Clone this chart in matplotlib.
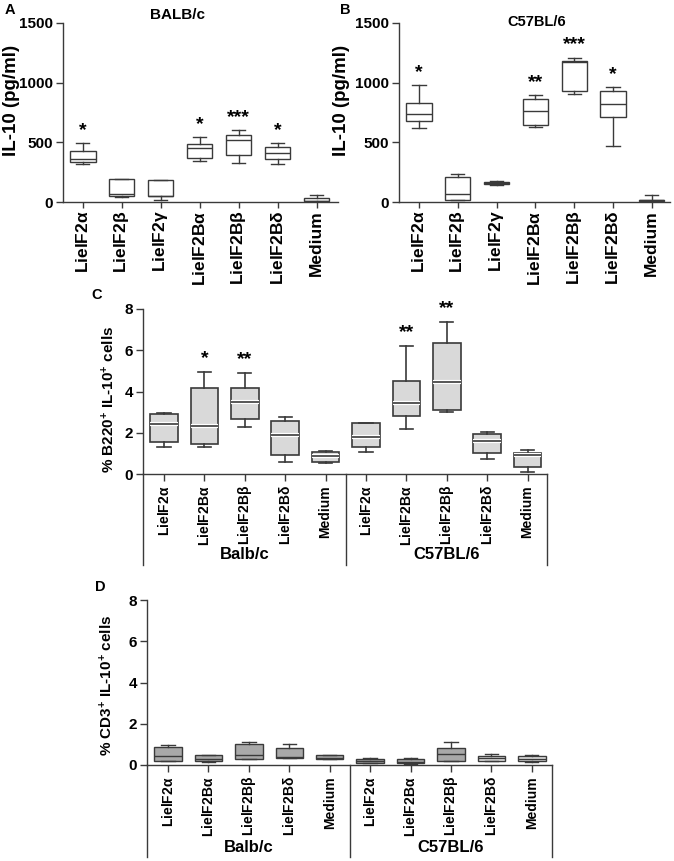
import numpy as np
import matplotlib
matplotlib.use('Agg')
import matplotlib.pyplot as plt
import matplotlib.patheffects as pe
from matplotlib import transforms

plt.rcParams['font.family'] = ['Liberation Sans', 'DejaVu Sans']
plt.rcParams['mathtext.fontset'] = 'custom'
plt.rcParams['mathtext.rm'] = 'Liberation Sans'
plt.rcParams['mathtext.bf'] = 'Liberation Sans:bold'
plt.rcParams['mathtext.default'] = 'regular'
NARROW = ['Liberation Sans Narrow', 'Liberation Sans', 'DejaVu Sans']

# IL-10 in supernatants (pg/ml), panels A and B
cats_il10 = [r'LielF2$\alpha$', r'LielF2$\beta$', r'LielF2$\gamma$', r'LielF2B$\alpha$',
             r'LielF2B$\beta$', r'LielF2B$\delta$', 'Medium']

balb_lo = [320, 45, 19, 345, 329, 315, 2]
balb_q1 = [337, 47, 48, 370, 390, 362, 5]
balb_med = [359, 69, 50, 453, 522, 412, 11]
balb_q3 = [428, 193, 182, 483, 558, 461, 33]
balb_hi = [494, 195, 188, 544, 602, 494, 55]
balb_stars = ['*', '', '', '*', '***', '*', '']

c57_lo = [620, 14, 140, 628, 905, 466, 3]
c57_q1 = [679, 20, 148, 642, 930, 712, 8]
c57_med = [740, 70, 159, 760, 1173, 824, 14]
c57_q3 = [832, 210, 168, 863, 1179, 930, 20]
c57_hi = [978, 232, 176, 894, 1207, 960, 56]
c57_stars = ['*', '', '', '**', '***', '*', '']

# % positive cells, panels C and D (Balb/c then C57BL/6)
cats_cells = [r'LielF2$\alpha$', r'LielF2B$\alpha$', r'LielF2B$\beta$', r'LielF2B$\delta$', 'Medium'] * 2
groups = ['Balb/c', 'C57BL/6']

b220_lo = [1.33, 1.33, 2.28, 0.60, 0.54, 1.09, 2.16, 2.99, 0.75, 0.08]
b220_q1 = [1.53, 1.46, 2.65, 0.91, 0.57, 1.32, 2.81, 3.12, 1.04, 0.36]
b220_med = [2.41, 2.34, 3.50, 1.87, 0.88, 1.80, 3.45, 4.46, 1.58, 0.91]
b220_q3 = [2.89, 4.18, 4.18, 2.57, 1.09, 2.46, 4.49, 6.36, 1.93, 1.04]
b220_hi = [2.96, 4.94, 4.89, 2.78, 1.12, 2.46, 6.21, 7.35, 2.05, 1.14]
b220_stars = ['', '*', '**', '', '', '', '**', '**', '', '']

cd3_lo = [0.21, 0.13, 0.29, 0.32, 0.27, 0.10, 0.06, 0.19, 0.17, 0.13]
cd3_q1 = [0.21, 0.18, 0.29, 0.32, 0.29, 0.12, 0.08, 0.19, 0.19, 0.18]
cd3_med = [0.45, 0.29, 0.50, 0.40, 0.36, 0.20, 0.16, 0.53, 0.36, 0.29]
cd3_q3 = [0.86, 0.47, 1.03, 0.84, 0.48, 0.28, 0.29, 0.84, 0.44, 0.42]
cd3_hi = [0.97, 0.50, 1.13, 1.00, 0.50, 0.32, 0.32, 1.13, 0.52, 0.47]

W, H = 674, 861
EDGE = '#3a3a3a'
fig = plt.figure(figsize=(W / 100, H / 100), dpi=100)


def px_axes(l, t, r, b):
    return fig.add_axes([l / W, 1 - b / H, (r - l) / W, (b - t) / H])


def boxes(ax, lo, q1, med, q3, hi, fill, width, capw, lw=1.0, halo=False):
    stats = [dict(whislo=a, q1=b, med=c, q3=d, whishi=e, fliers=[])
             for a, b, c, d, e in zip(lo, q1, med, q3, hi)]
    mprops = dict(color=EDGE, linewidth=lw)
    if halo:
        mprops['path_effects'] = [pe.withStroke(linewidth=3, foreground='white')]
    out = ax.bxp(stats, positions=np.arange(len(stats)), widths=width, capwidths=capw,
                 patch_artist=True, showfliers=False,
                 boxprops=dict(edgecolor=EDGE, linewidth=lw),
                 whiskerprops=dict(color=EDGE, linewidth=lw),
                 capprops=dict(color=EDGE, linewidth=lw),
                 medianprops=mprops)
    for i, bx in enumerate(out['boxes']):
        bx.set_facecolor(fill[i] if isinstance(fill, list) else fill)
    return out


def style(ax, labels, lsize, tlen, tpad):
    for s in ['top', 'right']:
        ax.spines[s].set_visible(False)
    for s in ['left', 'bottom']:
        ax.spines[s].set_color(EDGE)
        ax.spines[s].set_linewidth(1)
    ax.set_xticks(np.arange(len(labels)))
    ax.set_xticklabels(labels, rotation=90, fontsize=lsize, fontweight='bold', va='top')
    ax.tick_params(axis='x', length=tlen, width=1, color=EDGE, pad=tpad)
    ax.tick_params(axis='y', length=5, width=1, color=EDGE, pad=2)
    for t in ax.get_yticklabels():
        t.set_fontfamily(NARROW)
        t.set_fontweight('bold')
        t.set_fontsize(11)


def stars(ax, hi, marks, off):
    for i, s in enumerate(marks):
        if s:
            ax.text(i, hi[i] + off, s, ha='center', va='center', fontsize=14,
                    fontweight='bold', clip_on=False)


# ---- A ----
axA = px_axes(63, 23, 338, 202)
boxes(axA, balb_lo, balb_q1, balb_med, balb_q3, balb_hi, 'white', 0.65, 0.34, lw=1.0)
axA.set_xlim(-0.51, 6.55)
axA.set_ylim(0, 1500)
axA.set_yticks([0, 500, 1000, 1500])
style(axA, cats_il10, 12.5, 4, 2)
stars(axA, balb_hi, balb_stars, 105)
axA.set_ylabel('IL-10 (pg/ml)', fontsize=13.5, fontweight='bold')
axA.yaxis.set_label_coords(-0.156, 0.565)
axA.text(2.42, 1567, 'BALB/c', ha='center', va='center', fontsize=11, fontweight='bold', clip_on=False)

# ---- B ----
axB = px_axes(399, 23, 670, 202)
boxes(axB, c57_lo, c57_q1, c57_med, c57_q3, c57_hi, 'white', 0.65, 0.34, lw=1.0)
axB.set_xlim(-0.515, 6.47)
axB.set_ylim(0, 1500)
axB.set_yticks([0, 500, 1000, 1500])
style(axB, cats_il10, 12.5, 4, 2)
stars(axB, c57_hi, c57_stars, 110)
axB.set_ylabel('IL-10 (pg/ml)', fontsize=13.5, fontweight='bold')
axB.yaxis.set_label_coords(-0.18, 0.565)
axB.text(3.04, 1508, 'C57BL/6', ha='center', va='center', fontsize=10.5, fontweight='bold', clip_on=False)


def groups_below(ax, yl, yb):
    tr = transforms.blended_transform_factory(ax.transData, ax.transAxes)
    for x in [ax.get_xlim()[0], 4.5, ax.get_xlim()[1]]:
        ax.plot([x, x], [0, yb], color=EDGE, lw=1, transform=tr, clip_on=False)
    for k, g in enumerate(groups):
        ax.text(2 + 5 * k, yl, g, transform=tr, ha='center', va='center',
                fontsize=12, fontweight='bold', family=NARROW)


# ---- C ----
axC = px_axes(143, 309, 547, 474)
boxes(axC, b220_lo, b220_q1, b220_med, b220_q3, b220_hi, '#d9d9d9', 0.68, 0.33, lw=1.2, halo=True)
axC.set_xlim(-0.52, 9.48)
axC.set_ylim(0, 8)
axC.set_yticks([0, 2, 4, 6, 8])
style(axC, cats_cells, 10, 5, 3)
stars(axC, b220_hi, b220_stars, 0.65)
groups_below(axC, -0.49, -0.55)
axC.set_ylabel(r'% B220$^{\mathbf{+}}$ IL-10$^{\mathbf{+}}$ cells', fontsize=11,
               fontweight='bold', family=NARROW)
axC.yaxis.set_label_coords(-0.064, 0.455)

# ---- D ----
axD = px_axes(147, 600, 552, 765)
fillD = ['#a9a9a9'] * 8 + ['#e4e4e4'] * 2
boxes(axD, cd3_lo, cd3_q1, cd3_med, cd3_q3, cd3_hi, fillD, 0.68, 0.33, lw=1.0)
axD.set_xlim(-0.52, 9.5)
axD.set_ylim(0, 8)
axD.set_yticks([0, 2, 4, 6, 8])
style(axD, cats_cells, 10, 5, 3)
groups_below(axD, -0.50, -0.56)
axD.set_ylabel(r'% CD3$^{\mathbf{+}}$ IL-10$^{\mathbf{+}}$ cells', fontsize=11,
               fontweight='bold', family=NARROW)
axD.yaxis.set_label_coords(-0.079, 0.485)

# panel letters
for lab, x, y in [('A', 10, 10), ('B', 345, 10), ('C', 97, 295), ('D', 100, 587)]:
    fig.text(x / W, 1 - y / H, lab, ha='center', va='center', fontsize=10.5, fontweight='bold')

fig.savefig('out.png', dpi=100)
